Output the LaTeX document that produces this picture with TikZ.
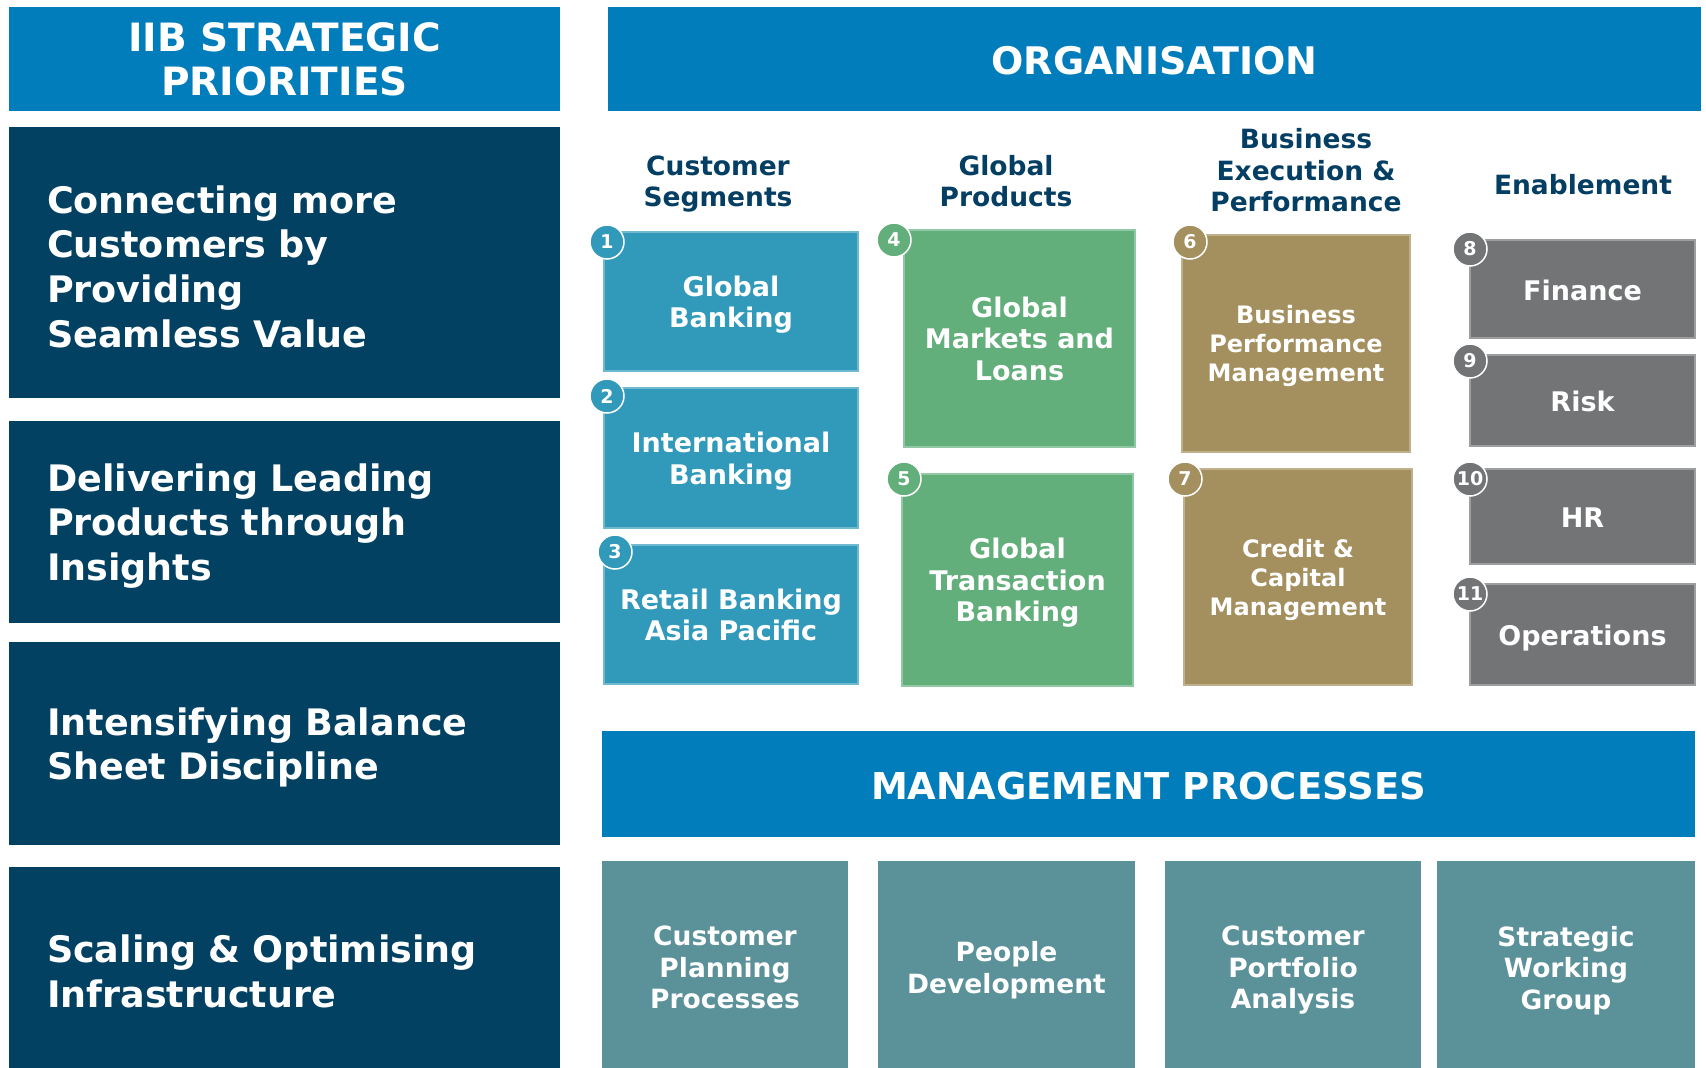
\documentclass[tikz,border=0pt]{standalone}
\usepackage{fontspec}
\setmainfont{DejaVu Sans}

% 配色
\definecolor{hdrblue}{RGB}{2,125,187}
\definecolor{navy}{RGB}{3,65,99}
\definecolor{titlenavy}{RGB}{4,62,99}
\definecolor{segblue}{RGB}{49,153,186}
\definecolor{prodgreen}{RGB}{99,175,123}
\definecolor{execgold}{RGB}{164,143,94}
\definecolor{enabgray}{RGB}{115,116,118}
\definecolor{mgmtteal}{RGB}{91,145,153}

\begin{document}
\begin{tikzpicture}[
    x=1pt, y=-1pt,
    box/.style 2 args={minimum width=#1, minimum height=#2, inner sep=0pt},
    lift/.style={execute at begin node={\rule{0pt}{#1}}},
    lift/.default=0.84em,
    hdr/.style={text depth=0pt, lift, fill=hdrblue, text=white, align=center,
        font=\bfseries\fontsize{37}{44}\selectfont},
    prio/.style={lift=0.98em, fill=navy, text=white, align=left, text width=475,
        font=\bfseries\fontsize{36.5}{44.6}\selectfont},
    colhead/.style={text depth=0pt, lift, text=titlenavy, align=center, inner sep=0pt,
        font=\bfseries\fontsize{26.5}{31.5}\selectfont},
    unit/.style={text depth=0pt, lift, fill=#1, draw=#1!70!white, line width=1.5pt,
        text=white, align=center, font=\bfseries\fontsize{27}{31.5}\selectfont},
    badge/.style={circle, fill=#1, draw=white, line width=1.5pt,
        minimum size=34, inner sep=0pt, text=white,
        font=\bfseries\fontsize{19}{19}\selectfont},
    proc/.style={text depth=0pt, fill=mgmtteal, text=white, align=center,
        font=\bfseries\fontsize{26.5}{31.5}\selectfont},
]

\useasboundingbox (0,0) rectangle (1706,1068);

% ---- 左列：战略重点 ----
\node[hdr, box={551}{104}, font=\bfseries\fontsize{39}{44}\selectfont]
    (prioHead) at (284.5,59) {IIB STRATEGIC\\PRIORITIES};
\node[prio, box={551}{271}] (prioA) at (284.5,262.5)
    {Connecting more\\Customers by\\Providing\\Seamless Value};
\node[prio, box={551}{202}] (prioB) at (284.5,522)
    {Delivering Leading\\Products through\\Insights};
\node[prio, box={551}{203}] (prioC) at (284.5,743.5)
    {Intensifying Balance\\Sheet Discipline};
\node[prio, box={551}{201}] (prioD) at (284.5,967.5)
    {Scaling \& Optimising\\Infrastructure};

% ---- 组织 ----
\node[hdr, box={1093}{104}, font=\bfseries\fontsize{38}{44}\selectfont]
    (orgHead) at (1154.5,59) {ORGANISATION};

\node[colhead] (csHead) at (718,181) {Customer\\Segments};
\node[colhead] (gpHead) at (1006,181) {Global\\Products};
\node[colhead] (bepHead) at (1306,170) {Business\\Execution \&\\Performance};
\node[colhead] (enHead) at (1583,183) {Enablement};

% 客户分部
\node[unit=segblue, box={254}{139}] (gb) at (731,301.5) {Global\\Banking};
\node[unit=segblue, box={254}{140}] (ib) at (731,458) {International\\Banking};
\node[unit=segblue, box={254}{139}] (rb) at (731,614.5) {Retail Banking\\Asia Pacific};

% 全球产品
\node[unit=prodgreen, box={231}{217}] (gml) at (1019.5,338.5)
    {Global\\Markets and\\Loans};
\node[unit=prodgreen, box={231}{212}] (gtb) at (1017.5,580)
    {Global\\Transaction\\Banking};

% 业务执行与绩效
\node[unit=execgold, box={228}{217}, font=\bfseries\fontsize{24}{29}\selectfont]
    (bpm) at (1296,343.5) {Business\\Performance\\Management};
\node[unit=execgold, box={228}{216}, font=\bfseries\fontsize{24}{29}\selectfont]
    (ccm) at (1298,577) {Credit \&\\Capital\\Management};

% 支持职能
\node[unit=enabgray, box={225}{98}] (fin) at (1582.5,289) {Finance};
\node[unit=enabgray, box={225}{91}] (risk) at (1582.5,400.5) {Risk};
\node[unit=enabgray, box={225}{95}] (hr) at (1582.5,516.5) {HR};
\node[unit=enabgray, box={225}{101}] (ops) at (1582.5,634.5) {Operations};

% ---- 编号圆点 ----
\node[badge=segblue] (n1) at (607,242) {1};
\node[badge=segblue] (n2) at (607,396) {2};
\node[badge=segblue] (n3) at (615,552) {3};
\node[badge=prodgreen] (n4) at (894,240) {4};
\node[badge=prodgreen] (n5) at (904,479) {5};
\node[badge=execgold] (n6) at (1190,242) {6};
\node[badge=execgold] (n7) at (1185,479) {7};
\node[badge=enabgray] (n8) at (1470,249) {8};
\node[badge=enabgray] (n9) at (1470,361) {9};
\node[badge=enabgray] (n10) at (1470,479) {10};
\node[badge=enabgray] (n11) at (1470,594) {11};

% ---- 管理流程 ----
\node[hdr, box={1093}{106}] (mgmtHead) at (1148.5,784) {MANAGEMENT PROCESSES};

% 下沿超出画布，被页面裁掉
\node[proc, box={246}{213}] (cpp) at (725,967.5) {Customer\\Planning\\Processes};
\node[proc, box={257}{213}] (pd) at (1006.5,967.5) {People\\Development};
\node[proc, box={256}{213}] (cpa) at (1293,967.5) {Customer\\Portfolio\\Analysis};
\node[proc, box={258}{213}] (swg) at (1566,967.5) {Strategic\\Working\\Group};

\end{tikzpicture}
\end{document}
